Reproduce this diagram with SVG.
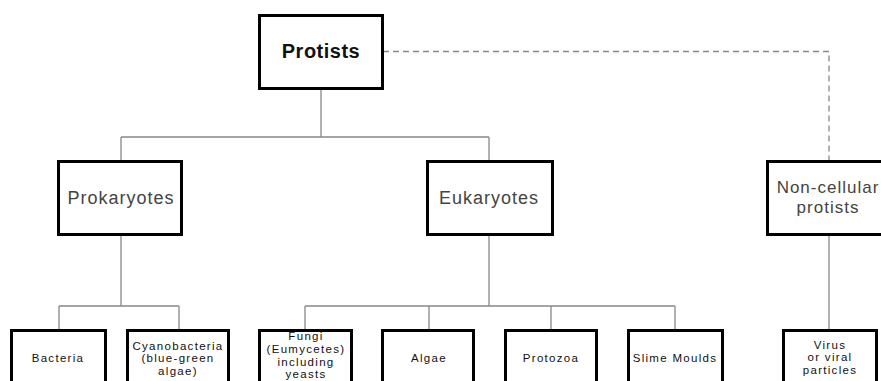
<svg xmlns="http://www.w3.org/2000/svg" width="881" height="381" viewBox="0 0 881 381">
<style>
.box{fill:#fff;stroke:#000;stroke-width:3}
.ln{fill:none;stroke:#888;stroke-width:1.3}
.dash{fill:none;stroke:#888;stroke-width:1.3;stroke-dasharray:6 4}
.t1{font-family:"Liberation Sans",Arial,sans-serif;font-size:20px;font-weight:bold;fill:#111;text-anchor:middle;letter-spacing:0.5px}
.t2{font-family:"Liberation Sans",Arial,sans-serif;font-size:18px;fill:#444;text-anchor:middle;letter-spacing:1px}
.t3{font-family:"Liberation Sans",Arial,sans-serif;font-size:17px;fill:#444;text-anchor:middle;letter-spacing:1px}
.t4{font-family:"Liberation Sans",Arial,sans-serif;font-size:11.5px;fill:#111;text-anchor:middle;letter-spacing:1.3px}
</style>
<rect width="881" height="381" fill="#fff"/>
<g id="connectors">
<path class="ln" d="M321,89 V137 M121,137 H489 M121,137 V161 M489,137 V161"/>
<path class="dash" d="M383,51.5 H829 V161"/>
<path class="ln" d="M121,235 V306 M59,306 H179 M59,306 V330 M179,306 V330"/>
<path class="ln" d="M489,235 V306 M305,306 H675 M305,306 V330 M429,306 V330 M551,306 V330 M675,306 V330"/>
<path class="ln" d="M829,235 V330"/>
</g>
<g id="protists"><rect class="box" x="259.5" y="15.5" width="123" height="73"/><text class="t1" x="321" y="58">Protists</text></g>
<g id="prokaryotes"><rect class="box" x="58.5" y="161.5" width="123" height="73"/><text class="t2" x="121" y="204">Prokaryotes</text></g>
<g id="eukaryotes"><rect class="box" x="427.5" y="161.5" width="125" height="73"/><text class="t2" x="489" y="204">Eukaryotes</text></g>
<g id="noncellular"><rect class="box" x="767.5" y="161.5" width="124" height="73"/><text class="t3" x="828" y="193">Non-cellular</text><text class="t3" x="828" y="213">protists</text></g>
<g id="bacteria"><rect class="box" x="11.5" y="330.5" width="94" height="60"/><text class="t4" x="58" y="362">Bacteria</text></g>
<g id="cyanobacteria"><rect class="box" x="127.5" y="330.5" width="101" height="60"/><text class="t4" x="178" y="350">Cyanobacteria</text><text class="t4" x="178" y="362">(blue-green</text><text class="t4" x="178" y="375">algae)</text></g>
<g id="fungi"><rect class="box" x="259.5" y="330.5" width="92" height="60"/><text class="t4" x="306" y="340">Fungi</text><text class="t4" x="306" y="353">(Eumycetes)</text><text class="t4" x="306" y="366">including</text><text class="t4" x="306" y="378">yeasts</text></g>
<g id="algae"><rect class="box" x="382.5" y="330.5" width="91" height="60"/><text class="t4" x="429" y="362">Algae</text></g>
<g id="protozoa"><rect class="box" x="505.5" y="330.5" width="91" height="60"/><text class="t4" x="551" y="362">Protozoa</text></g>
<g id="slime"><rect class="box" x="628.5" y="330.5" width="94" height="60"/><text class="t4" x="675" y="362">Slime Moulds</text></g>
<g id="virus"><rect class="box" x="783.5" y="330.5" width="93" height="60"/><text class="t4" x="830" y="349">Virus</text><text class="t4" x="830" y="361">or viral</text><text class="t4" x="830" y="374">particles</text></g>
</svg>
